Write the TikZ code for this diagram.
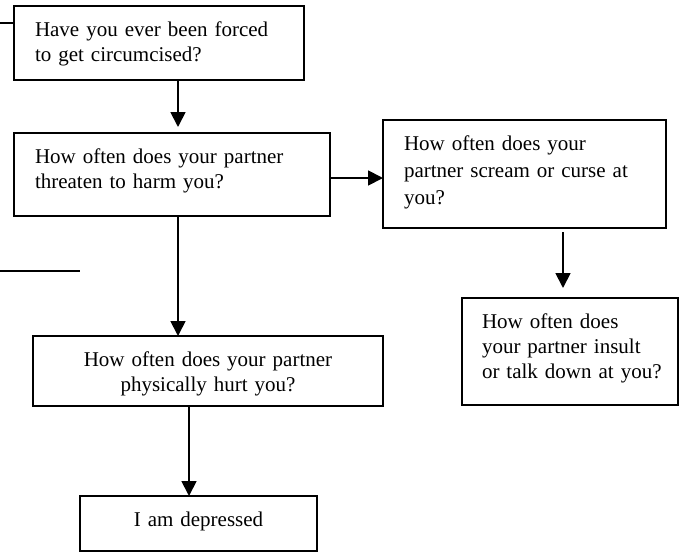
\documentclass[tikz,border=0pt]{standalone}
\usepackage{fontspec}
\setmainfont{Liberation Serif}
\usetikzlibrary{arrows.meta}
\tikzset{qbox/.style = {draw, outer sep=0, inner xsep=21pt, inner ysep=15.5pt,
                        text height=15pt, align=left, anchor=north west,
                        font=\fontsize{21}{25}\selectfont}}
\tikzset{arr/.style = {-{Triangle[width=15pt, length=15pt]}}}

\begin{document}
\begin{tikzpicture}[x=1pt, y=-1pt, line width=1.8pt]
          \useasboundingbox (0, 0) rectangle (683, 552);

          \node [qbox, text width=248pt, text depth=28pt] (forced) at (14, 6)
            {Have you ever been forced\\to get circumcised?};
          \node [qbox, text width=274pt, text depth=37pt] (threat) at (14, 133)
            {How often does your partner\\threaten to harm you?};
          \node [qbox, text width=241pt, text depth=62pt] (scream) at (383, 120)
            {How often does your\\[2pt]partner scream or curse at\\[2pt]you?};
          \node [qbox, inner xsep=20pt, text width=176pt, text depth=61pt] (insult) at (462, 298)
            {How often does\\your partner insult\\\mbox{or talk down at you?}};
          \node [qbox, align=center, text width=308pt, text depth=24pt] (hurt) at (33, 336)
            {How often does your partner\\physically hurt you?};
          \node [qbox, align=center, text width=195pt, text depth=9pt] (depr) at (80, 496)
            {I am depressed};

          \draw [arr, shorten >=6pt] ([xshift=19pt]forced.south)
            -- ([xshift=19pt]forced.south |- threat.north);
          \draw [arr] ([yshift=-3.5pt]threat.east) -- ([yshift=-3.5pt]threat.east -| scream.west);
          \draw [arr] ([xshift=6pt]threat.south) -- ([xshift=6pt]threat.south |- hurt.north);
          \draw [arr, shorten <=4pt, shorten >=10pt] ([xshift=38.5pt]scream.south)
            -- ([xshift=38.5pt]scream.south |- insult.north);
          \draw [arr] ([xshift=-19pt]hurt.south) -- ([xshift=-19pt]hurt.south |- depr.north);

          \coordinate (stubA) at (0, 23);
          \draw (stubA) -- (stubA -| forced.west);
          \coordinate (stubB) at (0, 271);
          \coordinate (stubC) at (80, 271);
          \draw (stubB) -- (stubC);
        \end{tikzpicture}
\end{document}
